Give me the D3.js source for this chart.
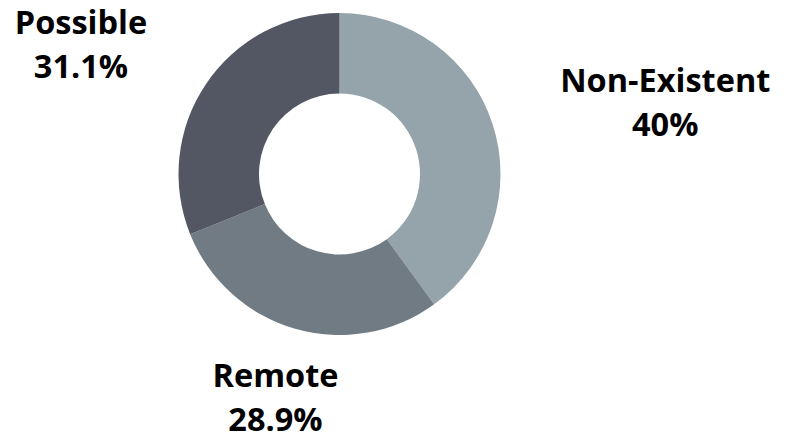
<!DOCTYPE html>
<html>
<head>
<meta charset="utf-8">
<script src="https://cdn.jsdelivr.net/npm/d3@7"></script>
<style>
  html, body { margin: 0; padding: 0; background: #fff; }
  svg { display: block; }
  text { font-family: "Open Sans", sans-serif; font-weight: 700; fill: #000; }
</style>
</head>
<body>
<svg id="svg" width="791" height="437"></svg>
<script>
"use strict";

const categories = ["Non-Existent", "Remote", "Possible"];
const values = [40, 28.9, 31.1];
const colors = ["#95a3aa", "#717b84", "#535763"];

const width = 791;
const height = 437;
const cx = 339.5;
const cy = 174;
const outerRadius = 161;
const innerRadius = 80.5;
const labelRadius = 232;
const fontSize = 32.5;
const lineGap = 44;

var svg = d3.select("svg");

var data = categories.map((c, i) => ({ name: c, value: values[i], color: colors[i] }));

var pie = d3.pie()
    .sort(null)
    .value(d => d.value);

var arc = d3.arc()
    .innerRadius(innerRadius)
    .outerRadius(outerRadius);

var labelArc = d3.arc()
    .innerRadius(labelRadius)
    .outerRadius(labelRadius);

var g = svg.append("g")
    .attr("transform", "translate(" + cx + "," + cy + ")");

var arcs = pie(data);

g.append("g")
    .selectAll("path")
    .data(arcs)
    .enter()
    .append("path")
        .attr("d", arc)
        .attr("fill", d => d.data.color);

var labels = g.append("g")
    .selectAll("g")
    .data(arcs)
    .enter()
    .append("g");

labels.each(function(d) {
    var sel = d3.select(this);
    var pos = labelArc.centroid(d);
    var mid = (d.startAngle + d.endAngle) / 2;
    var s = Math.sin(mid);

    // two lines: name, then percentage
    var t1 = sel.append("text")
        .attr("text-anchor", "middle")
        .attr("font-size", fontSize)
        .attr("y", -10)
        .text(d.data.name);
    var t2 = sel.append("text")
        .attr("text-anchor", "middle")
        .attr("font-size", fontSize)
        .attr("y", -10 + lineGap)
        .text(d3.format(".3~")(d.data.value) + "%");

    var w = Math.max(t1.node().getComputedTextLength(), t2.node().getComputedTextLength());
    var dx = 0;
    if (s > 0.5) dx = w / 2;
    else if (s < -0.5) dx = -w / 2;

    sel.attr("transform", "translate(" + (pos[0] + dx) + "," + pos[1] + ")");
});
</script>
</body>
</html>
